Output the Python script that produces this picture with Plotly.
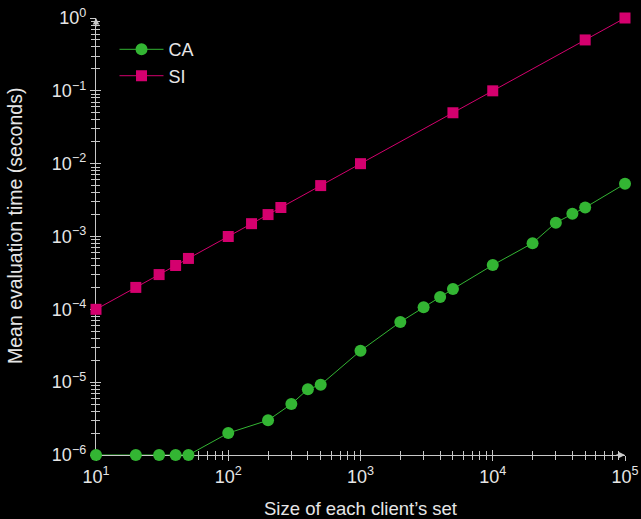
import plotly.graph_objects as go

# ---- data ----
ca_x = [10, 20, 30, 40, 50, 100, 200, 300, 400, 500, 1000, 2000, 3000, 4000, 5000,
        10000, 20000, 30000, 40000, 50000, 100000]
ca_y = [1e-6, 1e-6, 1e-6, 1e-6, 1e-6, 2e-6, 3e-6, 5e-6, 8e-6, 9.2e-6, 2.7e-5, 6.7e-5,
        1.07e-4, 1.48e-4, 1.9e-4, 4.05e-4, 8.1e-4, 1.55e-3, 2.05e-3, 2.5e-3, 5.3e-3]
si_x = [10, 20, 30, 40, 50, 100, 150, 200, 250, 500, 1000, 5000, 10000, 50000, 100000]
si_y = [1e-4, 2e-4, 3e-4, 4e-4, 5e-4, 1e-3, 1.5e-3, 2e-3, 2.5e-3, 5e-3, 1e-2, 5e-2,
        1e-1, 5e-1, 1.0]

x_tickvals = [10, 100, 1000, 10000, 100000]
x_ticktext = ["10<sup>1</sup>", "10<sup>2</sup>", "10<sup>3</sup>", "10<sup>4</sup>", "10<sup>5</sup>"]
y_tickvals = [1e-6, 1e-5, 1e-4, 1e-3, 1e-2, 1e-1, 1]
y_ticktext = ["10<sup>−6</sup>", "10<sup>−5</sup>", "10<sup>−4</sup>", "10<sup>−3</sup>",
              "10<sup>−2</sup>", "10<sup>−1</sup>", "10<sup>0</sup>"]
minor_mult = [2, 3, 4, 5, 6, 7, 8, 9]
x_minor = [m * d for d in x_tickvals[:-1] for m in minor_mult]
y_minor = [m * d for d in y_tickvals[:-1] for m in minor_mult]

GREEN = "#33b533"
MAGENTA = "#d4006e"
AXIS = "#c8c8c8"
TEXT = "#e6e6e6"
FONT = "Liberation Sans, Arial, sans-serif"

fig = go.Figure()

# invisible helper traces so the tick-only axes get drawn (underneath the data)
for sx, sy in (("x", "y"), ("x2", "y2"), ("x3", "y3")):
    fig.add_trace(go.Scatter(x=ca_x[:1], y=ca_y[:1], xaxis=sx, yaxis=sy, mode="markers",
                             marker=dict(opacity=0), showlegend=False, hoverinfo="skip"))

# data on the topmost overlay so markers cover the axis lines
fig.add_trace(go.Scatter(x=ca_x, y=ca_y, name="CA", mode="lines+markers", cliponaxis=False,
                         xaxis="x4", yaxis="y4",
                         line=dict(color=GREEN, width=1),
                         marker=dict(symbol="circle", size=12, color=GREEN)))
fig.add_trace(go.Scatter(x=si_x, y=si_y, name="SI", mode="lines+markers", cliponaxis=False,
                         xaxis="x4", yaxis="y4",
                         line=dict(color=MAGENTA, width=1),
                         marker=dict(symbol="square", size=11, color=MAGENTA)))

base = dict(type="log", showgrid=False, zeroline=False, showline=True, layer="below traces",
            linecolor=AXIS, linewidth=1.3, tickcolor=AXIS, tickwidth=1, tickmode="array")


def overlay_x(vals, side, length):
    return dict(**base, range=[1, 5], tickvals=vals, ticktext=["" for _ in vals],
                ticks=side, ticklen=length, anchor="y", side="bottom", overlaying="x",
                showticklabels=False)


def overlay_y(vals, side, length):
    return dict(**base, range=[-6, 0], tickvals=vals, ticktext=["" for _ in vals],
                ticks=side, ticklen=length, anchor="x", side="left", overlaying="y",
                showticklabels=False)


fig.update_layout(
    width=641, height=519,
    paper_bgcolor="black", plot_bgcolor="black",
    margin=dict(l=96, r=16, t=18, b=64, autoexpand=False),
    font=dict(family=FONT, size=18, color=TEXT),
    showlegend=True,
    legend=dict(x=0.035, y=0.97, xanchor="left", yanchor="top",
                bgcolor="rgba(0,0,0,0)", borderwidth=0,
                font=dict(size=18, color=TEXT), itemwidth=44, tracegroupgap=2),
    xaxis=dict(**base, range=[1, 5], tickvals=x_tickvals, ticktext=x_ticktext,
               ticks="outside", ticklen=5,
               tickfont=dict(size=18, color=TEXT),
               title=dict(text="Size of each client’s set", font=dict(size=18.5, color=TEXT), standoff=16),
               anchor="y"),
    yaxis=dict(**base, range=[-6, 0], tickvals=y_tickvals, ticktext=y_ticktext,
               ticks="outside", ticklen=5,
               tickfont=dict(size=18, color=TEXT), anchor="x"),
    xaxis2=overlay_x(x_tickvals, "inside", 5),
    xaxis3=overlay_x(x_minor, "outside", 4),
    xaxis4=overlay_x(x_minor, "inside", 4),
    yaxis2=overlay_y(y_tickvals, "inside", 5),
    yaxis3=overlay_y(y_minor, "outside", 4),
    yaxis4=overlay_y(y_minor, "inside", 4),
)

# y-axis title as rotated annotation
fig.add_annotation(x=0, y=0.524, xref="paper", yref="paper", xshift=-81, text="Mean evaluation time (seconds)",
                   textangle=-90, showarrow=False, xanchor="center", yanchor="middle",
                   font=dict(size=19.5, color=TEXT, family=FONT))

# arrowheads at the ends of the axes
fig.add_annotation(x=1, y=0, xref="paper", yref="paper", ax=-10, ay=0, text="",
                   showarrow=True, arrowhead=2, arrowsize=1, arrowwidth=1.3, arrowcolor=AXIS)
fig.add_annotation(x=0, y=1, xref="paper", yref="paper", ax=0, ay=10, text="",
                   showarrow=True, arrowhead=2, arrowsize=1, arrowwidth=1.3, arrowcolor=AXIS)

fig.write_html("out.html")
